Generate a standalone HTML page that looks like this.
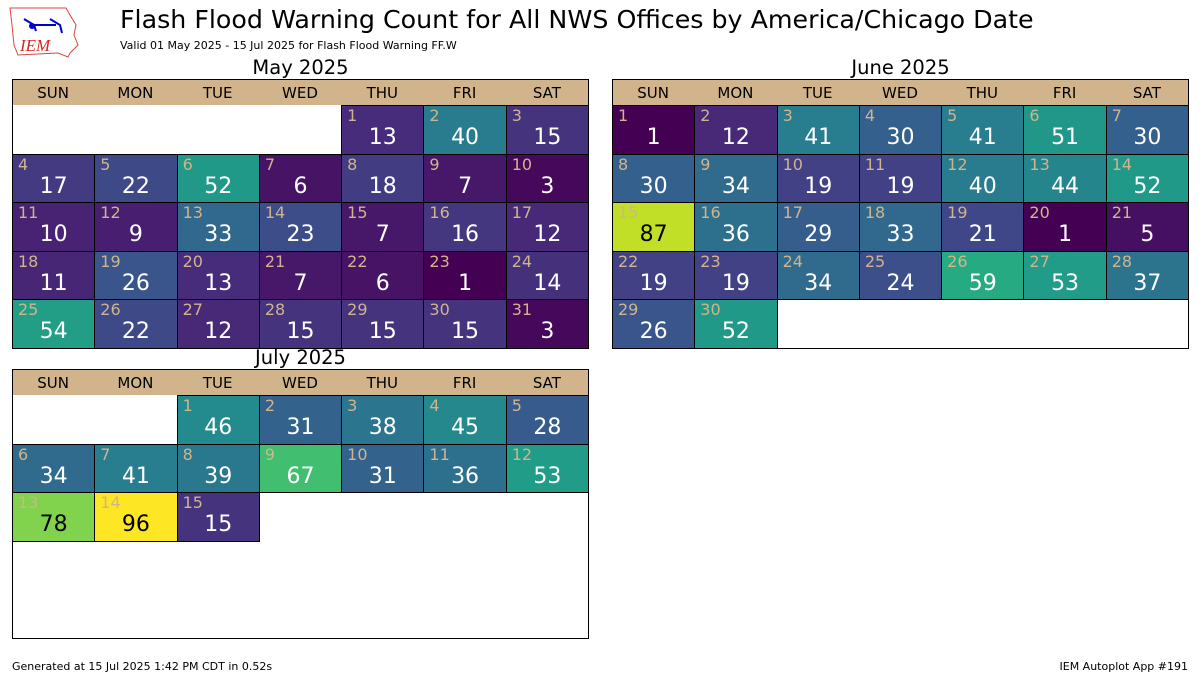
<!DOCTYPE html>
<html><head><meta charset="utf-8"><style>
body{margin:0;width:1200px;height:675px;background:#fff;position:relative;overflow:hidden;font-family:"DejaVu Sans","Liberation Sans",sans-serif}
.a{position:absolute;white-space:nowrap}
.box{position:absolute;border:1px solid #000;box-sizing:border-box}
.hd{position:absolute;background:#d2b48c;box-sizing:border-box}
.hl{position:absolute;font-size:15px;text-align:center;color:#000}
.c{position:absolute;border:1px solid #000;box-sizing:border-box}
.dn{position:absolute;left:5px;top:0px;font-size:16px;color:#d2b48c}
.v{position:absolute;left:0;right:0;top:19px;text-align:center;font-size:22px}
</style></head><body>
<svg class="a" style="left:8px;top:5px" width="72" height="54" viewBox="0 0 72 54">
<path d="M2 3 L58 3 L62 10 L68 20 L66 30 L70 40 L62 48 L60 52 L50 48 L10 50 L6 40 L4 20 Z" fill="none" stroke="#d44" stroke-width="1"/>
<path d="M16 14 L26 20 L48 20 M42 14 L52 20 L54 28 M26 20 L28 26" stroke="#00c" stroke-width="2" fill="none"/>
<circle cx="24" cy="21" r="3" fill="#00c"/>
<text x="12" y="46" font-family="Liberation Serif" font-style="italic" font-size="17" fill="#d22">IEM</text>
</svg>
<div class="a" style="left:120px;top:5px;font-size:25.3px">Flash Flood Warning Count for All NWS Offices by America/Chicago Date</div>
<div class="a" style="left:120px;top:39px;font-size:11px">Valid 01 May 2025 - 15 Jul 2025 for Flash Flood Warning FF.W</div>
<div class="a" style="left:12px;top:660px;font-size:11px">Generated at 15 Jul 2025 1:42 PM CDT in 0.52s</div>
<div class="a" style="right:12px;top:660px;font-size:11px">IEM Autoplot App #191</div>
<div id="root"></div>
<script>
var V=["#440154","#482475","#414487","#355f8d","#2a788e","#21918c","#22a884","#44bf70","#7ad151","#bddf26","#fde725"];
function h2r(h){return [1,3,5].map(i=>parseInt(h.substr(i,2),16))}
function col(v){var t=(v-1)/95;t=Math.max(0,Math.min(1,t))*10;var i=Math.min(9,Math.floor(t)),f=t-i;var a=h2r(V[i]),b=h2r(V[i+1]);return a.map((x,k)=>Math.round(x+(b[k]-x)*f))}
var days=["SUN","MON","TUE","WED","THU","FRI","SAT"];
function cal(x,y,title,start,vals){
 var W=577,cw=576/7,rh=48.6,H=26+rh*5;
 var s='<div class="a" style="left:'+x+'px;width:'+W+'px;text-align:center;top:'+(y-23)+'px;font-size:19.5px">'+title+'</div>';
 s+='<div class="box" style="left:'+x+'px;top:'+y+'px;width:'+W+'px;height:'+(H+1)+'px"></div>';
 s+='<div class="hd" style="left:'+(x+1)+'px;top:'+(y+1)+'px;width:'+(W-2)+'px;height:25px"></div>';
 days.forEach((d,i)=>{s+='<div class="hl" style="left:'+(x+i*cw)+'px;width:'+cw+'px;top:'+(y+5)+'px">'+d+'</div>'});
 vals.forEach((v,i)=>{var p=start+i,c=p%7,r=Math.floor(p/7);var cc=col(v);var lum=0.299*cc[0]+0.587*cc[1]+0.114*cc[2];
  s+='<div class="c" style="left:'+(x+c*cw)+'px;top:'+(y+26+r*rh)+'px;width:'+(cw+1)+'px;height:'+(rh+1)+'px;background:rgb('+cc+')"><div class="dn">'+(i+1)+'</div><div class="v" style="color:'+(lum>160?'#000':'#fff')+'">'+v+'</div></div>'});
 return s;}
var may=[13,40,15,17,22,52,6,18,7,3,10,9,33,23,7,16,12,11,26,13,7,6,1,14,54,22,12,15,15,15,3];
var jun=[1,12,41,30,41,51,30,30,34,19,19,40,44,52,87,36,29,33,21,1,5,19,19,34,24,59,53,37,26,52];
var jul=[46,31,38,45,28,34,41,39,67,31,36,53,78,96,15];
document.getElementById('root').innerHTML=cal(12,79,"May 2025",4,may)+cal(612,79,"June 2025",0,jun)+cal(12,369,"July 2025",2,jul);
</script>
</body></html>
